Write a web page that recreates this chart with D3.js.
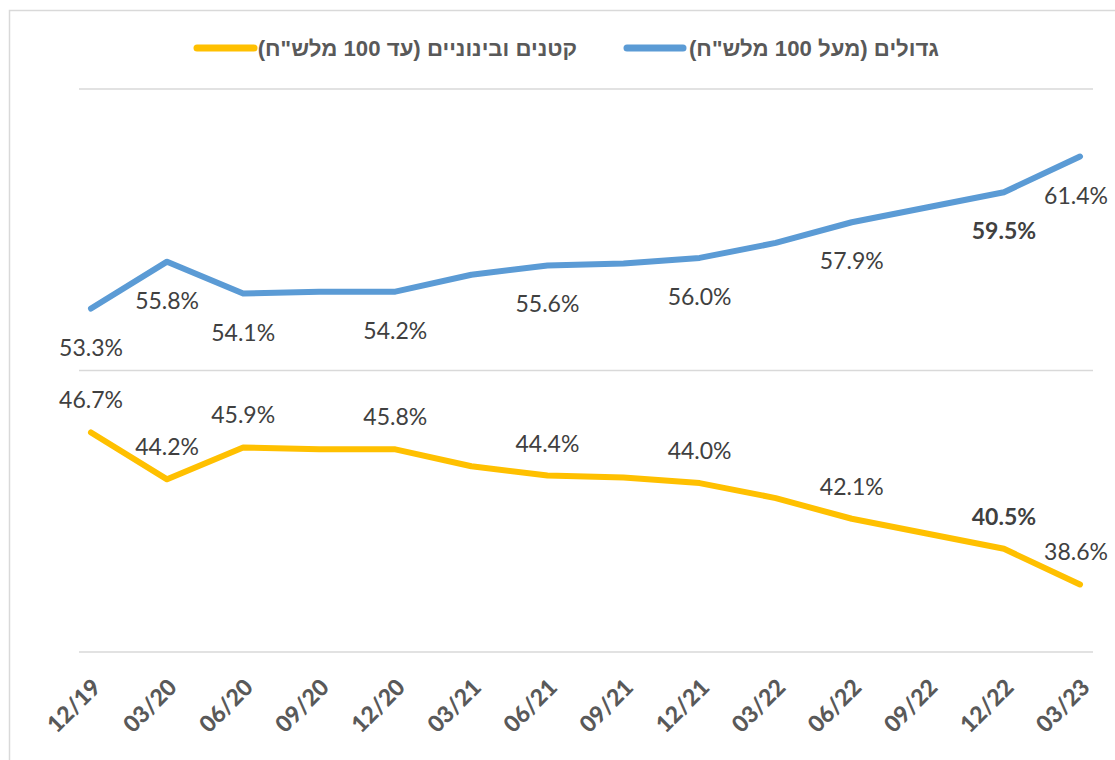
<!DOCTYPE html>
<html>
<head>
<meta charset="utf-8">
<script src="https://cdn.jsdelivr.net/npm/d3@7"></script>
<style>
  html, body { margin: 0; padding: 0; background: #fff; }
  svg { display: block; }
</style>
</head>
<body>
<svg id="chart" width="1115" height="760"></svg>
<script>
const categories = ["12/19","03/20","06/20","09/20","12/20","03/21","06/21","09/21","12/21","03/22","06/22","09/22","12/22","03/23"];
const largeValues = [53.3, 55.8, 54.1, 54.2, 54.2, 55.1, 55.6, 55.7, 56.0, 56.8, 57.9, 58.7, 59.5, 61.4];
const smallValues = [46.7, 44.2, 45.9, 45.8, 45.8, 44.9, 44.4, 44.3, 44.0, 43.2, 42.1, 41.3, 40.5, 38.6];
const labeledIdx = [0, 1, 2, 4, 6, 8, 10, 12, 13];
const boldIdx = [12];
const yTicks = [35, 50, 65];
const seriesNames = ["גדולים (מעל 100 מלש\"ח)", "קטנים ובינוניים (עד 100 מלש\"ח)"];
const seriesColors = ["#5B9BD5", "#FFC000"];

const svg = d3.select("#chart");

// frame
svg.append("rect").attr("x", 9.5).attr("y", 10.5).attr("width", 1300).attr("height", 900)
  .attr("fill", "none").attr("stroke", "#d9d9d9").attr("stroke-width", 1.5);

const x = d3.scalePoint().domain(categories).range([91, 1080]);
const y = d3.scaleLinear().domain([35, 65]).range([652, 89]);

// gridlines
svg.append("g").selectAll("line").data(yTicks).join("line")
  .attr("x1", 79).attr("x2", 1093)
  .attr("y1", d => y(d)).attr("y2", d => y(d))
  .attr("stroke", "#d9d9d9").attr("stroke-width", 1.5);

// x axis labels
const xAxis = d3.axisBottom(x).tickSize(0).tickPadding(0);
const gx = svg.append("g").call(xAxis);
gx.select(".domain").remove();
gx.selectAll(".tick text")
  .attr("transform", "translate(-1,677) rotate(-45)")
  .attr("x", 0).attr("y", 0).attr("dy", "0.72em")
  .attr("text-anchor", "end")
  .attr("font-family", "Lato, 'Open Sans', sans-serif")
  .attr("font-weight", "900")
  .attr("font-size", 23)
  .attr("fill", "#595959");

const line = d3.line().x((d, i) => x(categories[i])).y(d => y(d));
const series = [largeValues, smallValues];

series.forEach((vals, s) => {
  svg.append("path").datum(vals)
    .attr("d", line)
    .attr("fill", "none")
    .attr("stroke", seriesColors[s])
    .attr("stroke-width", 6)
    .attr("stroke-linejoin", "round")
    .attr("stroke-linecap", "round");
});

// labels
series.forEach((vals, s) => {
  svg.append("g").selectAll("text").data(labeledIdx).join("text")
    .attr("x", i => Math.min(x(categories[i]), 1076))
    .attr("y", i => s === 0 ? y(vals[i]) + 47 : y(vals[i]) - 24)
    .attr("text-anchor", "middle")
    .attr("font-family", "Lato, 'Open Sans', sans-serif")
    .attr("font-size", 23)
    .attr("font-weight", i => boldIdx.includes(i) ? "bold" : "normal")
    .attr("fill", "#404040")
    .text(i => vals[i].toFixed(1) + "%");
});

// legend
const legend = [
  {name: seriesNames[0], color: seriesColors[0], x1: 627, x2: 683, tx: 939},
  {name: seriesNames[1], color: seriesColors[1], x1: 197, x2: 254, tx: 577}
];
legend.forEach(l => {
  svg.append("line").attr("x1", l.x1).attr("x2", l.x2).attr("y1", 48).attr("y2", 48)
    .attr("stroke", l.color).attr("stroke-width", 7).attr("stroke-linecap", "round");
  svg.append("text").attr("x", l.tx).attr("y", 55.5)
    .attr("direction", "rtl")
    .attr("text-anchor", "start")
    .attr("font-family", "'Liberation Sans', Arial, sans-serif")
    .attr("font-weight", "bold")
    .attr("font-size", 22.2)
    .attr("fill", "#595959")
    .text(l.name);
});
</script>
</body>
</html>
